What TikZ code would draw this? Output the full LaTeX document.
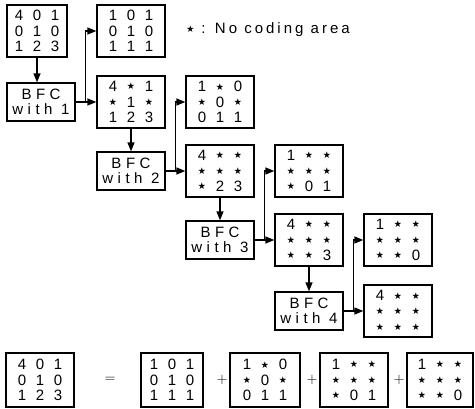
\documentclass[tikz,border=0pt]{standalone}
\usepackage{amssymb}
\usepackage{fontspec}
\setmainfont{Liberation Sans}[LetterSpace=20]
\usetikzlibrary{arrows.meta}

\newcommand{\nocd}{\raisebox{2.6pt}{\fontsize{8}{8}\selectfont$\bigstar$}}
\newcommand{\cl}[1]{\makebox[18pt]{#1}}
\newcommand{\mtx}[9]{\cl{#1}\cl{#2}\cl{#3}\\\cl{#4}\cl{#5}\cl{#6}\\\cl{#7}\cl{#8}\cl{#9}}

\begin{document}
\begin{tikzpicture}[
      x=1pt, y=-1pt,
      font=\fontsize{15}{15.5}\selectfont,
      mat/.style={draw, line width=1.3pt, minimum width=68pt,
                  minimum height=52pt, inner sep=0pt, align=center},
      bfc/.style={draw, line width=1.3pt, minimum width=68pt,
                  minimum height=38pt, inner sep=0pt, align=center,
                  font=\fontsize{15}{15.5}\selectfont\addfontfeature{LetterSpace=30}},
      arr/.style={line width=1.4pt, -{Triangle[length=9pt,width=7pt]}}
    ]
      \useasboundingbox (0,0) rectangle (475,409);
      % decomposition steps
      \node[mat, minimum width=60pt] (a0) at (37,31) {\mtx{4}{0}{1}{0}{1}{0}{1}{2}{3}};
      \node[mat] (r1) at (131,31)  {\mtx{1}{0}{1}{0}{1}{0}{1}{1}{1}};
      \node[bfc] (bfc1) at (41,102) {BFC\\with 1};
      \node[mat] (a1) at (131,102) {\mtx{4}{\nocd}{1}{\nocd}{1}{\nocd}{1}{2}{3}};
      \node[mat] (r2) at (220,102) {\mtx{1}{\nocd}{0}{\nocd}{0}{\nocd}{0}{1}{1}};
      \node[bfc] (bfc2) at (131,171) {BFC\\with 2};
      \node[mat] (a2) at (220,171) {\mtx{4}{\nocd}{\nocd}{\nocd}{\nocd}{\nocd}{\nocd}{2}{3}};
      \node[mat] (r3) at (309,171) {\mtx{1}{\nocd}{\nocd}{\nocd}{\nocd}{\nocd}{\nocd}{0}{1}};
      \node[bfc] (bfc3) at (220,240) {BFC\\with 3};
      \node[mat] (a3) at (309,240) {\mtx{4}{\nocd}{\nocd}{\nocd}{\nocd}{\nocd}{\nocd}{\nocd}{3}};
      \node[mat] (r4) at (398,240) {\mtx{1}{\nocd}{\nocd}{\nocd}{\nocd}{\nocd}{\nocd}{\nocd}{0}};
      \node[bfc] (bfc4) at (309,311) {BFC\\with 4};
      \node[mat] (a4) at (398,311) {\mtx{4}{\nocd}{\nocd}{\nocd}{\nocd}{\nocd}{\nocd}{\nocd}{\nocd}};
      \foreach \k in {1,...,4} {
        \pgfmathtruncatemacro{\p}{\k-1}
        \coordinate (j\k) at ([xshift=10pt]bfc\k.east);
        \draw[arr] (a\p.south) -- (a\p.south |- bfc\k.north);
        \draw[arr] (bfc\k.east) -- (a\k.west);
        \draw[arr] (j\k) |- (r\k.west);
      }
      \node[anchor=west] (key) at (183,30) {\nocd\ : No coding area};
      % sum of the layers
      \node[mat, minimum height=54pt] (e0) at (40,380)  {\mtx{4}{0}{1}{0}{1}{0}{1}{2}{3}};
      \node (eq) at (110,380) {$=$};
      \node[mat, minimum height=54pt, minimum width=62pt] (e1) at (172,380) {\mtx{1}{0}{1}{0}{1}{0}{1}{1}{1}};
      \node[mat, minimum height=54pt, minimum width=70pt] (e2) at (265,380) {\mtx{1}{\nocd}{0}{\nocd}{0}{\nocd}{0}{1}{1}};
      \node[mat, minimum height=54pt] (e3) at (354,380) {\mtx{1}{\nocd}{\nocd}{\nocd}{\nocd}{\nocd}{\nocd}{0}{1}};
      \node[mat, minimum height=54pt, minimum width=66pt] (e4) at (440,380) {\mtx{1}{\nocd}{\nocd}{\nocd}{\nocd}{\nocd}{\nocd}{\nocd}{0}};
      \node (p2) at (222,380) {$+$};
      \node (p3) at (312,380) {$+$};
      \node (p4) at (399,380) {$+$};
    \end{tikzpicture}
\end{document}
